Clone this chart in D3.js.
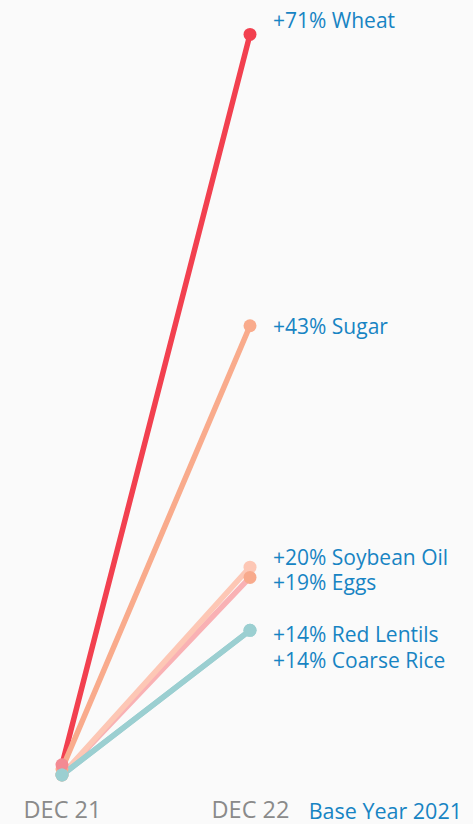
<!DOCTYPE html>
<html>
<head>
<meta charset="utf-8">
<script src="https://cdn.jsdelivr.net/npm/d3@7"></script>
<style>
    html, body { margin: 0; padding: 0; background: #fafafa; }
    svg { display: block; font-family: "Open Sans", sans-serif; }
</style>
</head>
<body>
<div id="chart"></div>
<script>
    // price index, base year 2021 = 100
    var periods = ['DEC 21', 'DEC 22'];
    var items = ['Wheat', 'Sugar', 'Soybean Oil', 'Eggs', 'Red Lentils', 'Coarse Rice'];
    var changes = ['+71%', '+43%', '+20%', '+19%', '+14%', '+14%'];
    var dec21 = [101, 100.6, 100, 100, 100, 100];
    var dec22 = [172.7, 144.1, 120.4, 119.4, 114.2, 114.2];
    var lineColors = ['#f2404f', '#f9ab8c', '#fdc7b5', '#f9b1b4', '#9bcfd1', '#9bcfd1'];
    var dotColors = ['#f2404f', '#f9ab8c', '#fdc7b5', '#f8aa8c', '#9bcfd1', '#9bcfd1'];

    var width = 473, height = 824;
    // small vertical nudges so labels don't collide
    var labelDy = [-14, 1, -10, 5, 4, 30];

    var svg = d3.select('#chart')
        .append('svg')
        .attr('width', width)
        .attr('height', height);

    var x = d3.scalePoint()
        .domain(periods)
        .range([62, 250]);

    var y = d3.scaleLinear()
        .domain([100, 175])
        .range([775, 11]);

    var data = items.map(function (name, i) {
        return {
            name: name,
            change: changes[i],
            values: [dec21[i], dec22[i]],
            line: lineColors[i],
            dot: dotColors[i],
            dy: labelDy[i]
        };
    });

    // bottom axis, text only
    var xAxis = d3.axisBottom(x).tickSize(0).tickPadding(0);
    var gx = svg.append('g')
        .attr('transform', 'translate(0,801)')
        .call(xAxis);
    gx.select('.domain').remove();
    gx.selectAll('text')
        .attr('dy', '0.71em')
        .attr('fill', '#8a8a8a')
        .style('font-size', '23.5px')
        .style('font-family', '"Open Sans", sans-serif');

    svg.append('text')
        .attr('x', 462)
        .attr('y', 819)
        .attr('text-anchor', 'end')
        .attr('fill', '#1784c3')
        .style('font-size', '21.5px')
        .text('Base Year 2021');

    var line = d3.line()
        .x(function (d, i) { return x(periods[i]); })
        .y(function (d) { return y(d); });

    var order = [0, 1, 3, 2, 4, 5];

    svg.append('g')
        .selectAll('path')
        .data(order.map(function (i) { return data[i]; }))
        .enter().append('path')
        .attr('d', function (d) { return line(d.values); })
        .attr('fill', 'none')
        .attr('stroke', function (d) { return d.line; })
        .attr('stroke-width', 5.5)
        .attr('stroke-linecap', 'round');

    // start dots
    svg.append('g')
        .selectAll('circle')
        .data([1, 2, 3, 0, 4, 5].map(function (i) { return data[i]; }))
        .enter().append('circle')
        .attr('cx', x(periods[0]))
        .attr('cy', function (d) { return y(d.values[0]); })
        .attr('r', 6.5)
        .attr('fill', function (d) { return d.name === 'Wheat' ? '#f38a93' : d.dot; });

    // end dots
    svg.append('g')
        .selectAll('circle')
        .data(data)
        .enter().append('circle')
        .attr('cx', x(periods[1]))
        .attr('cy', function (d) { return y(d.values[1]); })
        .attr('r', 6.5)
        .attr('fill', function (d) { return d.dot; });

    svg.append('g')
        .selectAll('text')
        .data(data)
        .enter().append('text')
        .attr('x', x(periods[1]) + 23)
        .attr('y', function (d) { return y(d.values[1]) + d.dy; })
        .attr('dy', '0.35em')
        .attr('fill', '#1784c3')
        .style('font-size', '21px')
        .text(function (d) { return d.change + ' ' + d.name; });
</script>
</body>
</html>
